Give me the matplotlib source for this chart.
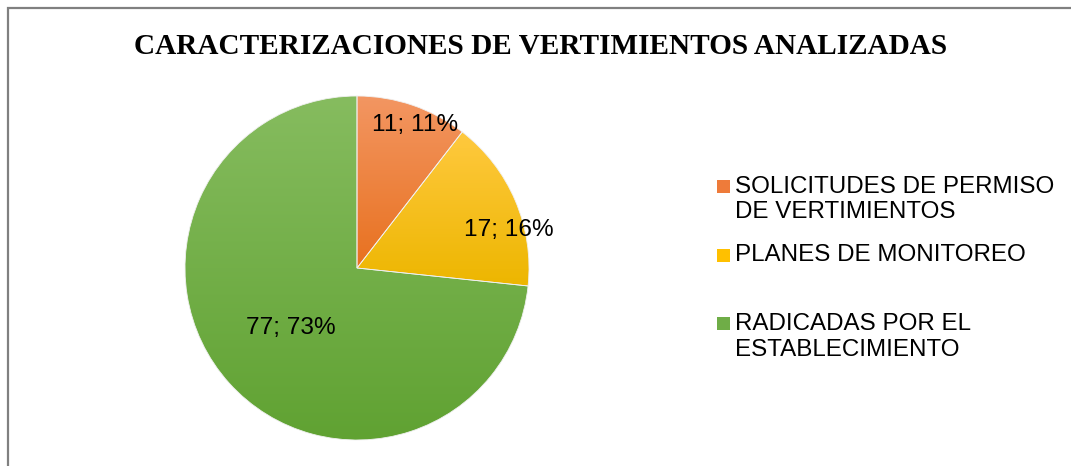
import numpy as np
import matplotlib
matplotlib.use("Agg")
import matplotlib.pyplot as plt
from matplotlib.colors import LinearSegmentedColormap
from matplotlib.patches import Rectangle

# ---- data ----
title = "CARACTERIZACIONES DE VERTIMIENTOS ANALIZADAS"
categories = ["SOLICITUDES DE PERMISO\nDE VERTIMIENTOS",
              "PLANES DE MONITOREO",
              "RADICADAS POR EL\nESTABLECIMIENTO"]
values = [11, 17, 77]
percent_labels = ["11%", "16%", "73%"]

# ---- style ----
top_colors = ["#F39662", "#FFC93F", "#86BC5F"]
bot_colors = ["#E8711F", "#EDB600", "#60A232"]
legend_colors = ["#EE7B3A", "#FFC000", "#6FAD47"]

W, H = 1071, 466
fig = plt.figure(figsize=(W / 100, H / 100), dpi=100)
ax = fig.add_axes([0, 0, 1, 1])

# frame
ax.plot([7.5, 7.5, W + 5], [-5, H - 8, H - 8], color="#808080", lw=1.6,
        solid_joinstyle="miter", zorder=1)

cx, cy, r = 357, H - 268, 172
wedges, _ = ax.pie(values, startangle=90, counterclock=False,
                   center=(cx, cy), radius=r, frame=True,
                   wedgeprops=dict(edgecolor="#F0F0F0", linewidth=0.6))
ax.set_xlim(0, W)
ax.set_ylim(0, H)
ax.set_aspect("equal")
ax.axis("off")

grad = np.linspace(1, 0, 256).reshape(-1, 1)
for w, c1, c2 in zip(wedges, top_colors, bot_colors):
    w.set_facecolor("none")
    w.set_zorder(3)
    bb = w.get_path().get_extents(w.get_transform())
    inv = ax.transData.inverted()
    (x0, y0), (x1, y1) = inv.transform([[bb.x0, bb.y0], [bb.x1, bb.y1]])
    cmap = LinearSegmentedColormap.from_list("g", [c2, c1])
    im = ax.imshow(grad, cmap=cmap, extent=[x0, x1, y0, y1], origin="upper",
                   aspect="auto", interpolation="bilinear", zorder=2)
    im.set_clip_path(w)
ax.set_xlim(0, W)
ax.set_ylim(0, H)

# data labels (angle offset from slice middle, radius fraction)
label_pos = [(-3.2, 0.895), (-9.0, 0.91), (0.0, 0.52)]
total = sum(values)
start = 90.0
for v, p, (da, rf) in zip(values, percent_labels, label_pos):
    span = 360.0 * v / total
    mid = np.deg2rad(start - span / 2 + da)
    start -= span
    ax.text(cx + rf * r * np.cos(mid), cy + rf * r * np.sin(mid),
            f"{v}; {p}", ha="center", va="center", fontsize=17.6,
            family="Liberation Sans", color="black", zorder=5)

# title
ax.text(541, H - 47, title, ha="center", va="center", fontsize=21.1,
        fontweight="bold", family="Liberation Serif", color="black")

# legend
leg_rows = [199.5, 255, 337]
for lab, col, yc in zip(categories, legend_colors, leg_rows):
    nlines = lab.count("\n") + 1
    first_center = yc - (nlines - 1) * 13.5
    ax.add_patch(Rectangle((717, H - first_center - 6.5), 13, 13,
                           facecolor=col, edgecolor="none"))
    ax.text(735, H - yc, lab, ha="left", va="center", fontsize=17.4,
            family="Liberation Sans", color="black", linespacing=1.22)

fig.savefig("out.png", dpi=100)
